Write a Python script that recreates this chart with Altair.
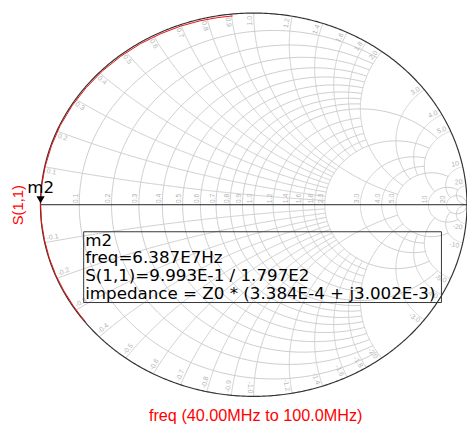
import numpy as np
import pandas as pd
import altair as alt

# ---------------- data ----------------
r_values = [0.1, 0.2, 0.3, 0.4, 0.5, 0.6, 0.7, 0.8, 0.9, 1.0, 1.2, 1.4, 1.6, 1.8, 2.0, 3.0, 4.0, 5.0, 10.0, 20.0]
r_labels = ["0.1", "0.2", "0.3", "0.4", "0.5", "0.6", "0.7", "0.8", "0.9", "1.0", "1.2", "1.4", "1.6", "1.8", "2.0",
            "3.0", "4.0", "5.0", "10", "20"]
# how far each grid circle / arc is drawn (limit on the other coordinate)
grid_limits = [2, 2, 2, 2, 2, 2, 2, 2, 2, 5, 2, 2, 2, 2, 5, 5, 5, 10, 20, np.inf]

# S(1,1) trace: angle (deg) and magnitude
trace_angle = [95.7, 99.8, 104.7, 110.2, 116.0, 122.3, 128.9, 135.4, 142.1, 148.8, 155.5, 162.0, 168.4, 174.3,
               179.7, 185.2, 190.6, 196.1, 201.5, 206.8, 212.0, 215.6, 217.7]
trace_mag = [0.990, 0.991, 0.992, 0.993, 0.993, 0.994, 0.994, 0.995, 0.995, 0.996, 0.997, 0.997, 0.998, 0.999,
             0.9993, 0.999, 0.998, 0.998, 0.998, 0.997, 0.997, 0.997, 0.997]

marker_name = "m2"
marker_angle = 179.7
marker_mag = 0.9993

box_lines = ["m2", "freq=6.387E7Hz", "S(1,1)=9.993E-1 / 1.797E2", "impedance = Z0 * (3.384E-4 + j3.002E-3)"]
y_title = "S(1,1)"
x_title = "freq (40.00MHz to 100.0MHz)"

# ---------------- layout ----------------
W, H = 434, 390
RX, RY = W / 2, H / 2
FONT = "Liberation Sans"
WIDE = "DejaVu Sans"
GRID = "#cccccc"
LABEL = "#b4b4b4"


def gam(r, x):
    z = np.asarray(r) + 1j * np.asarray(x)
    g = (z - 1) / (z + 1)
    return np.real(g), np.imag(g)


rows = []
seg = 0
for r, lim in zip(r_values, grid_limits):
    a = np.arctan(lim) if np.isfinite(lim) else np.pi / 2 * 0.999999
    xs = np.tan(np.linspace(-a, a, 241))
    gr, gi = gam(np.full_like(xs, r), xs)
    for k, (u, v) in enumerate(zip(gr, gi)):
        rows.append((u, v, f"r{seg}", k))
    seg += 1
for xv, lim in zip(r_values, grid_limits):
    a = np.arctan(lim) if np.isfinite(lim) else np.pi / 2 * 0.999999
    rs = np.tan(np.linspace(0, a, 241))
    for s in (1, -1):
        gr, gi = gam(rs, np.full_like(rs, s * xv))
        for k, (u, v) in enumerate(zip(gr, gi)):
            rows.append((u, v, f"x{seg}", k))
        seg += 1
grid_df = pd.DataFrame(rows, columns=["gx", "gy", "seg", "ord"])

# outer circle (r = 0)
xs = np.tan(np.linspace(-np.pi / 2 * 0.999999, np.pi / 2 * 0.999999, 721))
br, bi = gam(np.zeros_like(xs), xs)
bound_df = pd.DataFrame({"gx": br, "gy": bi, "ord": np.arange(len(br))})
axis_df = pd.DataFrame({"gx": [-1.0, 1.0], "gy": [0.0, 0.0], "ord": [0, 1]})

ta = np.radians(trace_angle)
trace_df = pd.DataFrame({"gx": np.array(trace_mag) * np.cos(ta), "gy": np.array(trace_mag) * np.sin(ta),
                         "ord": np.arange(len(ta))})
ma = np.radians(marker_angle)
marker_df = pd.DataFrame({"gx": [marker_mag * np.cos(ma)], "gy": [marker_mag * np.sin(ma)], "name": [marker_name]})


def text_len(t, fs=7):
    w = 0
    for ch in t:
        w += {".": 0.278, "-": 0.333}.get(ch, 0.556)
    return w * fs


# labels on the real axis
lab = []
for r, t in zip(r_values, r_labels):
    g0 = (r - 1) / (r + 1)
    L = text_len(t)
    px = RX * g0 - 3.5
    py = -(L / 2 + 1.5)
    lab.append((px / RX, -py / RY, t, 270.0))
# labels along the rim
for xv, t in zip(r_values, r_labels):
    for s in (1, -1):
        gr, gi = gam(0.0, s * xv)
        tt = np.arctan2(gi, gr)
        bx, by = RX * np.cos(tt), -RY * np.sin(tt)
        vin = np.array([-RX * np.cos(tt), RY * np.sin(tt)])
        vin /= np.linalg.norm(vin)
        side = np.array([-RX * np.sin(tt) * s, -RY * np.cos(tt) * s])
        side /= np.linalg.norm(side)
        ang = np.degrees(np.arctan2(vin[1], vin[0]))
        if ang <= -90 or ang > 90:
            ang -= 180
        ang = ang % 360
        txt = t if s > 0 else "-" + t
        L = text_len(txt)
        c = np.array([bx, by]) + vin * (L / 2 + 3) + side * 4
        lab.append((c[0] / RX, -c[1] / RY, txt, ang))
lab_df = pd.DataFrame(lab, columns=["gx", "gy", "txt", "ang"])

xs_ = alt.Scale(domain=[-1, 1], nice=False, zero=False)
ys_ = alt.Scale(domain=[-1, 1], nice=False, zero=False)
X = alt.X("gx:Q", scale=xs_, axis=None)
Y = alt.Y("gy:Q", scale=ys_, axis=None)

grid = alt.Chart(grid_df).mark_line(color=GRID, strokeWidth=1).encode(x=X, y=Y, detail="seg:N", order="ord:Q")
labels = alt.Chart(lab_df).mark_text(font=FONT, fontSize=7, color=LABEL, align="center", baseline="middle").encode(
    x=X, y=Y, text="txt:N", angle=alt.Angle("ang:Q", scale=None))
bound = alt.Chart(bound_df).mark_line(color="#333333", strokeWidth=1.2).encode(x=X, y=Y, order="ord:Q")
axis = alt.Chart(axis_df).mark_line(color="#222222", strokeWidth=1).encode(x=X, y=Y, order="ord:Q")
trace = alt.Chart(trace_df).mark_line(color="#ee1111", strokeWidth=1).encode(x=X, y=Y, order="ord:Q")
marker = alt.Chart(marker_df).mark_point(shape="triangle-down", filled=True, color="black", opacity=1,
                                         size=70, yOffset=-4).encode(x=X, y=Y)
marker_text = alt.Chart(marker_df).mark_text(font=WIDE, fontSize=17, color="black", align="center",
                                             baseline="alphabetic", dy=-11).encode(x=X, y=Y, text="name:N")

ann = pd.DataFrame({"t": ["\n".join(box_lines)]})
box = alt.Chart(ann).mark_rect(fillOpacity=0, stroke="#333333", strokeWidth=1).encode(
    x=alt.value(44), x2=alt.value(408), y=alt.value(222.5), y2=alt.value(294.5))
box_text = alt.Chart(ann).mark_text(font=WIDE, fontSize=17, color="black", align="left", baseline="alphabetic",
                                    lineBreak="\n", lineHeight=18).encode(
    x=alt.value(45.5), y=alt.value(236.5), text="t:N")
ytitle = alt.Chart(pd.DataFrame({"t": [y_title]})).mark_text(
    font=FONT, fontSize=15, color="#ff0000", angle=270, align="center", baseline="middle").encode(
    x=alt.value(-23), y=alt.value(195.5), text="t:N")
xtitle = alt.Chart(pd.DataFrame({"t": [x_title]})).mark_text(
    font=FONT, fontSize=16.5, color="#ff0000", align="center", baseline="alphabetic").encode(
    x=alt.value(219), y=alt.value(415.5), text="t:N")

chart = alt.layer(grid, labels, bound, axis, trace, box, box_text, marker, marker_text, ytitle, xtitle).properties(
    width=W, height=H,
    autosize=alt.AutoSizeParams(type="none"),
    padding={"left": 33, "top": 1.5, "right": 0, "bottom": 28},
).configure_view(stroke=None)

chart.save("out.html", embed_options={"renderer": "svg", "actions": False})
